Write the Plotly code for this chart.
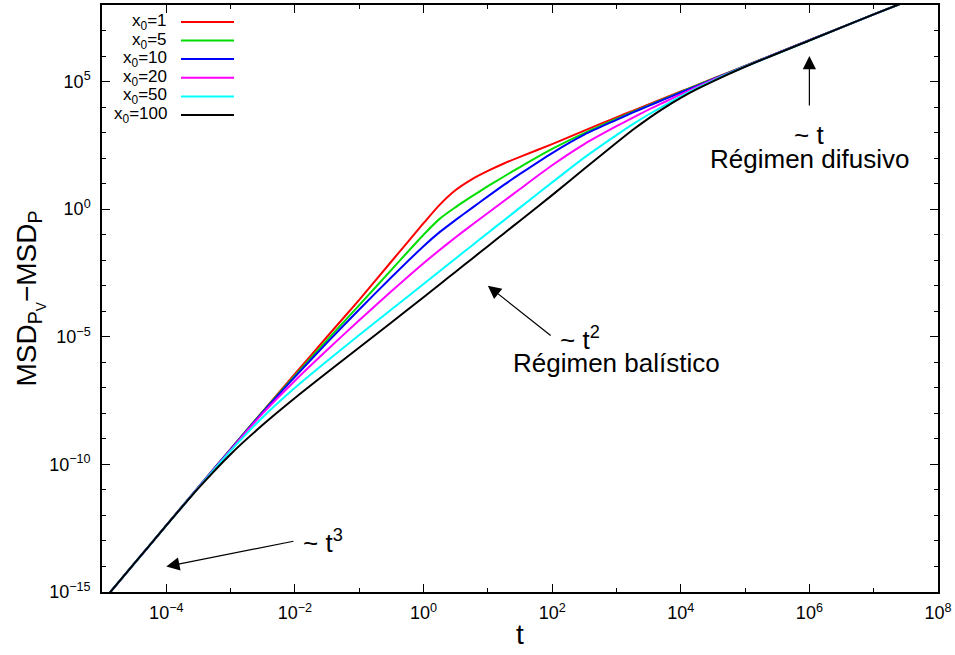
import plotly.graph_objects as go

# exponents of t (t = 10**LOG_T)
LOG_T = [-5, -4.5, -4, -3.5, -3, -2.5, -2, -1.5, -1, -0.5, 0, 0.25, 0.5, 0.75,
         1, 1.25, 1.5, 2, 2.5, 3, 3.25, 3.5, 3.75, 4, 4.25, 4.5, 5, 6, 7, 8]

# exponents of MSD_PV - MSD_P
LOG_X0_1 = [-15.39, -13.89, -12.39, -10.89, -9.4, -7.92, -6.45, -5.0, -3.55, -2.05, -0.55, 0.17, 0.75, 1.17,
            1.5, 1.79, 2.05, 2.55, 3.08, 3.6, 3.85, 4.1, 4.36, 4.61, 4.86, 5.11, 5.61, 6.62, 7.63, 8.63]
LOG_X0_5 = [-15.39, -13.89, -12.39, -10.89, -9.4, -7.93, -6.52, -5.13, -3.76, -2.38, -1.0, -0.38, 0.08, 0.5,
            0.9, 1.28, 1.65, 2.36, 2.98, 3.54, 3.81, 4.07, 4.33, 4.59, 4.85, 5.1, 5.61, 6.62, 7.63, 8.63]
LOG_X0_10 = [-15.39, -13.89, -12.39, -10.89, -9.41, -7.95, -6.57, -5.23, -3.93, -2.67, -1.45, -0.9, -0.42, 0.04,
             0.5, 0.95, 1.38, 2.2, 2.92, 3.5, 3.78, 4.05, 4.31, 4.57, 4.83, 5.09, 5.6, 6.62, 7.63, 8.63]
LOG_X0_20 = [-15.39, -13.89, -12.39, -10.9, -9.43, -8.0, -6.72, -5.52, -4.35, -3.22, -2.12, -1.6, -1.1, -0.62,
             -0.15, 0.32, 0.79, 1.72, 2.55, 3.25, 3.58, 3.9, 4.2, 4.5, 4.79, 5.07, 5.6, 6.62, 7.63, 8.63]
LOG_X0_50 = [-15.39, -13.89, -12.39, -10.91, -9.47, -8.15, -7.0, -5.95, -4.93, -3.93, -2.93, -2.43, -1.93, -1.43,
             -0.93, -0.44, 0.06, 1.05, 2.02, 2.9, 3.32, 3.71, 4.07, 4.42, 4.74, 5.04, 5.59, 6.61, 7.63, 8.63]
LOG_X0_100 = [-15.39, -13.89, -12.39, -10.93, -9.6, -8.45, -7.4, -6.4, -5.42, -4.44, -3.45, -2.95, -2.45, -1.95,
              -1.45, -0.95, -0.45, 0.55, 1.58, 2.6, 3.1, 3.56, 3.98, 4.36, 4.7, 5.01, 5.58, 6.61, 7.63, 8.63]

SERIES_NAMES = ["x<sub>0</sub>=1", "x<sub>0</sub>=5", "x<sub>0</sub>=10",
                "x<sub>0</sub>=20", "x<sub>0</sub>=50", "x<sub>0</sub>=100"]
SERIES = [LOG_X0_1, LOG_X0_5, LOG_X0_10, LOG_X0_20, LOG_X0_50, LOG_X0_100]
COLORS = ["#ff0000", "#00dd00", "#0000ff", "#ff00ff", "#00ffff", "#000000"]

X_TICK_EXP = [-4, -2, 0, 2, 4, 6, 8]
X_MINOR_EXP = [-5, -3, -1, 1, 3, 5, 7]
Y_TICK_EXP = [-15, -10, -5, 0, 5]
Y_MINOR_EXP = [e for e in range(-15, 9) if e % 5 != 0]


def sup_label(e):
    s = str(e).replace("-", "\u2212")
    return f"10<sup>{s}</sup>"


t_vals = [10 ** e for e in LOG_T]

fig = go.Figure()
for name, ys, col in zip(SERIES_NAMES, SERIES, COLORS):
    fig.add_trace(go.Scatter(
        x=t_vals, y=[10 ** v for v in ys], mode="lines", name=name,
        line=dict(color=col, width=2, shape="spline", smoothing=0.7),
        showlegend=False,
    ))

FONT = "Liberation Sans, Arial, sans-serif"
NARROW = "Liberation Sans Narrow, Liberation Sans, Arial, sans-serif"

fig.update_layout(
    width=955, height=655,
    margin=dict(l=102, r=17, t=3, b=63),
    paper_bgcolor="white", plot_bgcolor="white",
    font=dict(family=FONT, color="black", size=16),
    xaxis=dict(
        type="log", range=[-5, 8],
        tickvals=[10 ** e for e in X_TICK_EXP],
        ticktext=[sup_label(e) for e in X_TICK_EXP],
        ticks="inside", ticklen=8, tickwidth=1, tickcolor="black",
        showline=True, linecolor="black", linewidth=1.5, mirror="allticks",
        showgrid=False, zeroline=False,
        tickfont=dict(family=NARROW, size=18), ticklabelstandoff=4,
        minor=dict(tickvals=[10 ** e for e in X_MINOR_EXP], ticklen=4, ticks="inside",
                   tickcolor="black", showgrid=False),
        title=dict(text="t", font=dict(family=FONT, size=28), standoff=2),
    ),
    yaxis=dict(
        type="log", range=[-15, 8],
        tickvals=[10 ** e for e in Y_TICK_EXP],
        ticktext=[sup_label(e) for e in Y_TICK_EXP],
        ticks="inside", ticklen=8, tickwidth=1, tickcolor="black",
        showline=True, linecolor="black", linewidth=1.5, mirror="allticks",
        showgrid=False, zeroline=False,
        tickfont=dict(family=NARROW, size=18), ticklabelstandoff=6,
        minor=dict(tickvals=[10 ** e for e in Y_MINOR_EXP], ticklen=4, ticks="inside",
                   tickcolor="black", showgrid=False),
        title=dict(text="MSD<sub>P<sub>V</sub></sub>\u2212MSD<sub>P</sub>",
                   font=dict(family=FONT, size=28), standoff=4),
    ),
)

# manual legend (text left, sample line right, as in the reference)
LEG_ROW_Y = [20, 38.7, 57.3, 76, 94.7, 113.3]
for name, col, py in zip(SERIES_NAMES, COLORS, LEG_ROW_Y):
    yp = (592 - py) / 589
    fig.add_annotation(xref="paper", yref="paper", x=(169 - 102) / 836, y=yp,
                       text=name, showarrow=False, xanchor="right", yanchor="middle",
                       font=dict(family=FONT, size=17))
    fig.add_shape(type="line", xref="paper", yref="paper",
                  x0=(181 - 102) / 836, x1=(234 - 102) / 836, y0=yp, y1=yp,
                  line=dict(color=col, width=2))

ANN_FONT = dict(family=FONT, size=26, color="black")
# arrows (log10 coordinates)
ARROWS = [((-4, -14), (-2, -13)), ((1, -3), (2, -5)), ((6, 6), (6, 4))]
for (hx, hy), (tx, ty) in ARROWS:
    fig.add_annotation(x=hx, y=hy, ax=tx, ay=ty, xref="x", yref="y", axref="x", ayref="y",
                       text="", showarrow=True, arrowhead=2, arrowsize=2.2, arrowwidth=1.2,
                       arrowcolor="black")

LABELS = [
    (-1.9, -13.04, "~ t<sup>3</sup>", "left"),
    (2.09, -5.05, "~ t<sup>2</sup>", "left"),
    (3.0, -6.02, "Régimen balístico", "center"),
    (6.0, 2.92, "~ t", "center"),
    (6.0, 1.98, "Régimen difusivo", "center"),
]
for lx, ly, txt, anc in LABELS:
    fig.add_annotation(x=lx, y=ly, xref="x", yref="y", text=txt, showarrow=False,
                       xanchor=anc, yanchor="middle", font=ANN_FONT)

fig.write_html("out.html")
